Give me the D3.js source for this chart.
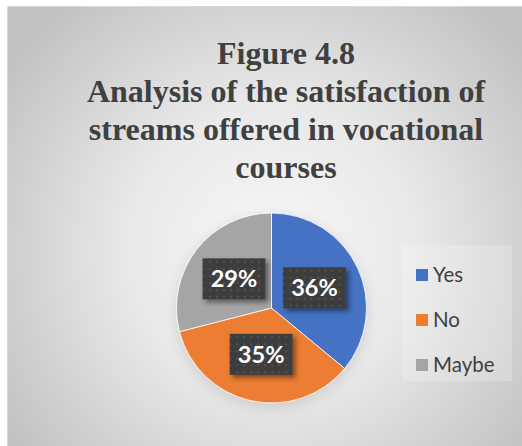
<!DOCTYPE html>
<html>
<head>
<meta charset="utf-8">
<script src="https://cdn.jsdelivr.net/npm/d3@7"></script>
<style>
    html, body { margin: 0; padding: 0; background: #fff; }
    #chart { width: 522px; height: 446px; }
</style>
</head>
<body>
<div id="chart"></div>
<script>
const titleLines = ['Figure 4.8', 'Analysis of the satisfaction of', 'streams offered in vocational', 'courses'];
const categories = ['Yes', 'No', 'Maybe'];
const values = [36, 35, 29];
const colors = ['#4472c4', '#ed7d31', '#a5a5a5'];

const width = 522, height = 446;
const cx = 271.5, cy = 308, r = 95;

const svg = d3.select('#chart')
    .append('svg')
        .attr('width', width)
        .attr('height', height);

const defs = svg.append('defs');

// chart area background, light in the middle and darker at the rim
const bg = defs.append('radialGradient')
    .attr('id', 'bg')
    .attr('gradientUnits', 'userSpaceOnUse')
    .attr('cx', 272).attr('cy', 250).attr('r', 320);
bg.append('stop').attr('offset', '0%').attr('stop-color', '#f7f7f7');
bg.append('stop').attr('offset', '45%').attr('stop-color', '#e9e9e9');
bg.append('stop').attr('offset', '100%').attr('stop-color', '#c2c2c2');

const dots = defs.append('pattern')
    .attr('id', 'dots')
    .attr('patternUnits', 'userSpaceOnUse')
    .attr('width', 7).attr('height', 7);
dots.append('rect').attr('width', 7).attr('height', 7).attr('fill', '#3d3d3d');
dots.append('rect').attr('x', 3).attr('y', 3).attr('width', 2).attr('height', 2).attr('fill', '#525252');

const shadow = defs.append('filter')
    .attr('id', 'shadow')
    .attr('x', '-20%').attr('y', '-20%').attr('width', '150%').attr('height', '150%');
shadow.append('feDropShadow')
    .attr('dx', 3).attr('dy', 3).attr('stdDeviation', 2.5)
    .attr('flood-color', '#000').attr('flood-opacity', 0.45);

const pieShadow = defs.append('filter')
    .attr('id', 'pieShadow')
    .attr('x', '-30%').attr('y', '-30%').attr('width', '160%').attr('height', '160%');
pieShadow.append('feDropShadow')
    .attr('dx', 0).attr('dy', 4).attr('stdDeviation', 7)
    .attr('flood-color', '#000').attr('flood-opacity', 0.12);

svg.append('rect')
    .attr('x', 7.5).attr('y', 6.5)
    .attr('width', 520).attr('height', 450)
    .attr('fill', 'url(#bg)')
    .attr('stroke', '#d9d9d9');

// title
const title = svg.append('text')
    .attr('text-anchor', 'middle')
    .attr('font-family', '"Liberation Serif", "Times New Roman", serif')
    .attr('font-weight', 'bold')
    .attr('font-size', 32)
    .attr('fill', '#404040');
title.selectAll('tspan')
    .data(titleLines)
    .enter()
    .append('tspan')
        .attr('x', 286)
        .attr('y', (d, i) => 64 + i * 38)
        .text(d => d);

// pie
const pie = d3.pie().sort(null).value(d => d);
const arcs = pie(values);
const arc = d3.arc().innerRadius(0).outerRadius(r);
const labelArc = d3.arc().innerRadius(r * 0.5).outerRadius(r * 0.5);

const g = svg.append('g')
    .attr('transform', `translate(${cx}, ${cy})`);

g.append('g')
    .attr('filter', 'url(#pieShadow)')
    .selectAll('path')
    .data(arcs)
    .enter()
    .append('path')
        .attr('d', arc)
        .attr('fill', (d, i) => colors[i])
        .attr('stroke', '#fff')
        .attr('stroke-width', 0.8);

const labels = g.selectAll('g.label')
    .data(arcs)
    .enter()
    .append('g')
        .attr('class', 'label')
        .attr('transform', d => `translate(${labelArc.centroid(d)})`);

labels.append('rect')
    .attr('x', -31.5).attr('y', -20.5)
    .attr('width', 63).attr('height', 41)
    .attr('fill', 'url(#dots)')
    .attr('filter', 'url(#shadow)');

labels.append('text')
    .attr('text-anchor', 'middle')
    .attr('dy', '0.36em')
    .attr('font-family', 'Lato, "Open Sans", sans-serif')
    .attr('font-weight', 'bold')
    .attr('font-size', 23.5)
    .attr('fill', '#fff')
    .text(d => d.data + '%');

// legend
const legend = svg.append('g');
legend.append('rect')
    .attr('x', 402).attr('y', 245)
    .attr('width', 110).attr('height', 136)
    .attr('fill', '#fff').attr('fill-opacity', 0.2);

const items = legend.selectAll('g.item')
    .data(categories)
    .enter()
    .append('g')
        .attr('class', 'item')
        .attr('transform', (d, i) => `translate(416, ${269 + i * 45})`);

items.append('rect')
    .attr('width', 12).attr('height', 12)
    .attr('fill', (d, i) => colors[i]);

items.append('text')
    .attr('x', 17).attr('y', 13)
    .attr('font-family', 'Lato, "Open Sans", sans-serif')
    .attr('font-size', 20.5)
    .attr('fill', '#404040')
    .text(d => d);
</script>
</body>
</html>
